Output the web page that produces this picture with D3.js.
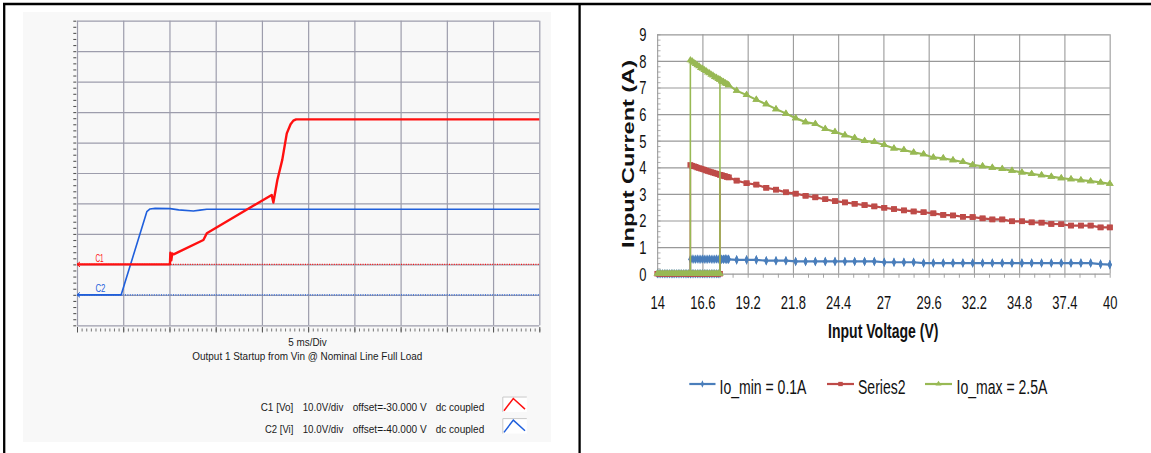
<!DOCTYPE html>
<html><head><meta charset="utf-8">
<script src="https://cdn.jsdelivr.net/npm/d3@7"></script>
<style>html,body{margin:0;padding:0;background:#fff;overflow:hidden}svg{display:block}</style>
</head><body><svg id="chart" width="1151" height="453"></svg>
<script>
// ================= DATA =================
// --- left: oscilloscope capture ---
const scopeDivTimes = [0, 5, 10, 15, 20, 25, 30, 35, 40, 45, 50];   // ms, 5 ms/div
const scopeDivs = [0, 1, 2, 3, 4, 5, 6, 7, 8, 9, 10];
const scopeVoltsPerDiv = [10, 10];          // C1, C2
const scopeOffsets = [-30, -40];            // V
const c1Time = [0, 10.05, 10.1, 10.2, 10.3, 10.45, 13.67, 14.04, 21.06, 21.24, 21.67, 22.2, 22.69, 23.1, 23.4, 23.7, 50];
const c1Volt = [0, 0, 3.8, 1.3, 3.6, 3.3, 8.0, 10.2, 22.8, 20.3, 27.7, 34.3, 43.0, 46.0, 47.2, 47.6, 47.6];
const c2Time = [0, 4.78, 7.55, 7.9, 8.45, 10.07, 11.0, 12.59, 13.3, 14.04, 50];
const c2Volt = [0, 0, 27.3, 28.2, 28.4, 28.3, 27.9, 27.5, 27.8, 28.1, 28.1];
const scopeChannelNames = ["C1", "C2"];
const scopeLegendNames = ["C1 [Vo]", "C2 [Vi]"];
const scopeLegendScale = ["10.0V/div", "10.0V/div"];
const scopeLegendOffset = ["offset=-30.000 V", "offset=-40.000 V"];
const scopeLegendCoupling = ["dc coupled", "dc coupled"];
const scopeTimebase = "5 ms/Div";
const scopeCaption = "Output 1 Startup from Vin @ Nominal Line Full Load";

// --- right: input current vs input voltage ---
const vinTicks = [14, 16.6, 19.2, 21.8, 24.4, 27, 29.6, 32.2, 34.8, 37.4, 40];
const vinTickLabels = ["14", "16.6", "19.2", "21.8", "24.4", "27", "29.6", "32.2", "34.8", "37.4", "40"];
const currentTicks = [0, 1, 2, 3, 4, 5, 6, 7, 8, 9];
const seriesNames = ["Io_min = 0.1A", "Series2", "Io_max = 2.5A"];
const turnOnV = 17.6, turnOffV = 15.9;
const vinZero = [14.0, 14.1, 14.2, 14.3, 14.4, 14.5, 14.6, 14.7, 14.8, 14.9, 15.0, 15.1, 15.2, 15.3, 15.4, 15.5, 15.6, 15.7, 15.8, 15.9, 16.0, 16.1, 16.2, 16.3, 16.4, 16.5, 16.6, 16.7, 16.8, 16.9, 17.0, 17.1, 17.2, 17.3, 17.4, 17.5, 17.6];
const vinFine = [15.9, 16.0, 16.1, 16.2, 16.3, 16.4, 16.5, 16.6, 16.7, 16.8, 16.9, 17.0, 17.1, 17.2, 17.3, 17.4, 17.5, 17.6, 17.7, 17.8, 17.9, 18.0, 18.1];
const ioMinFine   = [0.54, 0.55, 0.54, 0.54, 0.55, 0.54, 0.54, 0.55, 0.54, 0.54, 0.54, 0.55, 0.54, 0.54, 0.54, 0.55, 0.54, 0.54, 0.54, 0.54, 0.55, 0.54, 0.54];
const series2Fine = [4.09, 4.06, 4.04, 4.02, 3.99, 3.97, 3.95, 3.93, 3.91, 3.88, 3.86, 3.84, 3.82, 3.80, 3.78, 3.76, 3.74, 3.72, 3.70, 3.68, 3.66, 3.64, 3.62];
const ioMaxFine   = [8.03, 7.99, 7.93, 7.89, 7.84, 7.80, 7.74, 7.71, 7.66, 7.62, 7.57, 7.54, 7.48, 7.45, 7.40, 7.37, 7.32, 7.29, 7.24, 7.21, 7.16, 7.13, 7.09];
const vinCoarse = [18.56, 19.13, 19.69, 20.26, 20.82, 21.39, 21.95, 22.52, 23.08, 23.65, 24.21, 24.78, 25.34, 25.91, 26.47, 27.04, 27.6, 28.17, 28.73, 29.3, 29.86, 30.43, 30.99, 31.56, 32.12, 32.69, 33.25, 33.82, 34.38, 34.95, 35.51, 36.08, 36.64, 37.21, 37.77, 38.34, 38.9, 39.47, 40.0];
const ioMinCoarse = [0.52, 0.52, 0.52, 0.49, 0.49, 0.49, 0.46, 0.46, 0.46, 0.46, 0.46, 0.46, 0.46, 0.46, 0.46, 0.43, 0.43, 0.43, 0.43, 0.40, 0.40, 0.40, 0.40, 0.40, 0.40, 0.40, 0.40, 0.40, 0.40, 0.40, 0.40, 0.40, 0.40, 0.40, 0.40, 0.40, 0.40, 0.36, 0.34];
const series2Coarse = [3.50, 3.40, 3.35, 3.23, 3.16, 3.06, 3.01, 2.93, 2.87, 2.80, 2.73, 2.68, 2.63, 2.58, 2.53, 2.48, 2.43, 2.38, 2.34, 2.31, 2.27, 2.21, 2.19, 2.14, 2.13, 2.08, 2.04, 2.04, 1.97, 1.97, 1.93, 1.92, 1.87, 1.86, 1.81, 1.81, 1.81, 1.74, 1.74];
const ioMaxCoarse = [6.88, 6.72, 6.54, 6.37, 6.19, 6.02, 5.85, 5.70, 5.63, 5.44, 5.33, 5.21, 5.10, 4.99, 4.95, 4.84, 4.71, 4.65, 4.56, 4.49, 4.37, 4.34, 4.27, 4.20, 4.09, 4.04, 3.99, 3.94, 3.87, 3.81, 3.75, 3.70, 3.65, 3.59, 3.55, 3.52, 3.48, 3.43, 3.38];

// ================= DRAW =================
const W = 1151, H = 453;
const svg = d3.select('#chart');
svg.append('rect').attr('width', W).attr('height', H).attr('fill', '#fff');

// ---------- LEFT PANEL (scope) ----------
const L = svg.append('g').attr('font-family', "'Liberation Sans', Arial, sans-serif");
L.append('rect').attr('x', 23).attr('y', 12).attr('width', 528).attr('height', 430).attr('fill', '#f8f8f8');

const sx0 = 77, sx1 = 539.3, sy0 = 325.3, sy1 = 20.7;
const xS = d3.scaleLinear().domain([0, d3.max(scopeDivTimes)]).range([sx0, sx1]);
const yS = d3.scaleLinear().domain([0, d3.max(scopeDivs)]).range([sy0, sy1]);

function clean(g) { g.select('.domain').remove(); return g; }

// grid
clean(L.append('g').attr('transform', `translate(0,${sy0})`)
  .call(d3.axisBottom(xS).tickValues(scopeDivTimes).tickSize(-(sy0 - sy1)).tickFormat('')))
  .selectAll('line').attr('stroke', '#9d9dac').attr('stroke-width', 1.2);
clean(L.append('g').attr('transform', `translate(${sx0},0)`)
  .call(d3.axisLeft(yS).tickValues(scopeDivs).tickSize(-(sx1 - sx0)).tickFormat('')))
  .selectAll('line').attr('stroke', '#9d9dac').attr('stroke-width', 1.2);

// bottom ticks
clean(L.append('g').attr('transform', `translate(0,328.5)`)
  .call(d3.axisBottom(xS).tickValues(d3.range(0, 50.001, 0.5)).tickSize(3).tickFormat('')))
  .selectAll('line').attr('stroke', '#666').attr('stroke-width', 0.9);
clean(L.append('g').attr('transform', `translate(0,327)`)
  .call(d3.axisBottom(xS).tickValues(scopeDivTimes).tickSize(5.5).tickFormat('')))
  .selectAll('line').attr('stroke', '#555').attr('stroke-width', 1);
// left ticks
clean(L.append('g').attr('transform', `translate(76.3,0)`)
  .call(d3.axisLeft(yS).tickValues(d3.range(0, 10.001, 0.2)).tickSize(3).tickFormat('')))
  .selectAll('line').attr('stroke', '#555').attr('stroke-width', 1.1);

const chanColors = ['#ff1010', '#1f5fdc'];
const groundDiv = scopeOffsets.map((o, i) => (d3.max(scopeDivs) / 2) + o / scopeVoltsPerDiv[i]);

// ground reference dotted lines
groundDiv.forEach((g, i) => {
  L.append('line').attr('x1', xS(0)).attr('x2', xS(50)).attr('y1', yS(g)).attr('y2', yS(g))
    .attr('stroke', chanColors[i]).attr('stroke-width', 1.3).attr('stroke-dasharray', '1,1.4');
  L.append('path').attr('d', `M${xS(0) + 3},${yS(g) - 2.5} L${xS(0)},${yS(g)} L${xS(0) + 3},${yS(g) + 2.5}`)
    .attr('fill', 'none').attr('stroke', chanColors[i]).attr('stroke-width', 1);
});

const traces = [
  {t: c1Time, v: c1Volt, w: 2.4},
  {t: c2Time, v: c2Volt, w: 1.6}
];
[1, 0].forEach(i => {
  const tr = traces[i];
  const pts = tr.t.map((t, k) => [t, tr.v[k]]);
  const line = d3.line().x(d => xS(d[0])).y(d => yS(groundDiv[i] + d[1] / scopeVoltsPerDiv[i]));
  L.append('path').attr('d', line(pts)).attr('fill', 'none')
    .attr('stroke', chanColors[i]).attr('stroke-width', tr.w).attr('stroke-linejoin', 'round');
});

// channel labels
scopeChannelNames.forEach((n, i) => {
  L.append('text').attr('x', 95.4).attr('y', yS(groundDiv[i]) - 2.6).text(n)
    .attr('font-size', 10.5).attr('fill', chanColors[i])
    .attr('textLength', i === 0 ? 8.2 : 10).attr('lengthAdjust', 'spacingAndGlyphs');
});

function ltext(x, y, s, len, size) {
  return L.append('text').attr('x', x).attr('y', y).text(s).attr('font-size', size || 10.8)
    .attr('fill', '#1a1a1a').attr('textLength', len).attr('lengthAdjust', 'spacingAndGlyphs');
}
ltext(288.3, 345.8, scopeTimebase, 38.4);
ltext(192.3, 360.3, scopeCaption, 230);

const legRowY = [411, 432.6];
const nameX = [[260.7, 32.6], [265, 28.3]];
scopeLegendNames.forEach((n, i) => {
  ltext(nameX[i][0], legRowY[i], n, nameX[i][1], 11);
  ltext(302.7, legRowY[i], scopeLegendScale[i], 40.6, 11);
  ltext(352.7, legRowY[i], scopeLegendOffset[i], 74, 11);
  ltext(435.7, legRowY[i], scopeLegendCoupling[i], 48.6, 11);
  const top = legRowY[i] - 14.5;
  L.append('rect').attr('x', 502.3).attr('y', top).attr('width', 24.5).attr('height', 15.5).attr('fill', '#fff');
  L.append('path').attr('d', `M502.8,${top + 15.5} V${top + 0.5} H526.8`).attr('fill', 'none')
    .attr('stroke', '#c8c8c8').attr('stroke-width', 1);
  L.append('path').attr('d', `M504,${top + 14.3} L513.3,${top + 2} L525,${top + 12.6}`)
    .attr('fill', 'none').attr('stroke', chanColors[i]).attr('stroke-width', 1.5);
});

// ---------- RIGHT PANEL (Excel chart, horizontally squeezed) ----------
const SQ = 0.72;
const R = svg.append('g').attr('transform', `scale(${SQ},1)`)
  .attr('font-family', "'Liberation Sans', Arial, sans-serif");
const rx0 = 657.3, rx1 = 1109.8, ry0 = 273.7, ry1 = 34.3;
const xR = d3.scaleLinear().domain([d3.min(vinTicks), d3.max(vinTicks)]).range([rx0 / SQ, rx1 / SQ]);
const yR = d3.scaleLinear().domain([d3.min(currentTicks), d3.max(currentTicks)]).range([ry0, ry1]);

// gridlines
clean(R.append('g').attr('transform', `translate(0,${ry0})`)
  .call(d3.axisBottom(xR).tickValues(vinTicks).tickSize(-(ry0 - ry1)).tickFormat('')))
  .selectAll('line').attr('stroke', '#999').attr('stroke-width', 1.5);
clean(R.append('g').attr('transform', `translate(${rx0 / SQ},0)`)
  .call(d3.axisLeft(yR).tickValues(currentTicks).tickSize(-(rx1 - rx0) / SQ).tickFormat('')))
  .selectAll('line').attr('stroke', '#999').attr('stroke-width', 1.2);
// minor ticks
clean(R.append('g').attr('transform', `translate(${rx0 / SQ},0)`)
  .call(d3.axisRight(yR).tickValues(d3.range(0, 9.001, 0.2)).tickSize(4.5).tickFormat('')))
  .selectAll('line').attr('stroke', '#999').attr('stroke-width', 0.9);
clean(R.append('g').attr('transform', `translate(0,${ry0})`)
  .call(d3.axisBottom(xR).tickValues(d3.range(14, 40.001, 2.6 / 3)).tickSize(4).tickFormat('')))
  .selectAll('line').attr('stroke', '#999').attr('stroke-width', 1.2);

// tick labels
const xl = R.append('g').attr('transform', `translate(0,${ry0})`)
  .call(d3.axisBottom(xR).tickValues(vinTicks).tickSize(0).tickFormat((d, i) => vinTickLabels[i]));
xl.select('.domain').remove();
xl.selectAll('text').attr('y', 35).attr('dy', null).attr('font-size', 18).attr('fill', '#111').attr('font-family', null);
const yl = R.append('g').attr('transform', `translate(${rx0 / SQ},0)`)
  .call(d3.axisLeft(yR).tickValues(currentTicks).tickSize(0));
yl.select('.domain').remove();
yl.selectAll('text').attr('x', -(rx0 - 646.5) / SQ).attr('dy', '0.36em').attr('font-size', 18).attr('fill', '#111').attr('font-family', null);

// axis titles
R.append('text').attr('x', 883.3 / SQ).attr('y', 338.3).attr('text-anchor', 'middle')
  .attr('font-size', 19.5).attr('font-weight', 'bold').attr('fill', '#111').text('Input Voltage (V)');
R.append('text').attr('transform', `translate(${633.8 / SQ},154) rotate(-90)`).attr('text-anchor', 'middle')
  .attr('font-size', 23.5).attr('font-weight', 'bold').attr('fill', '#111').text('Input Current (A)');

// series
function sweep(fine, coarse) {
  const up = vinZero.map(v => [v, 0]);
  vinFine.forEach((v, i) => { if (v >= turnOnV) up.push([v, fine[i]]); });
  vinCoarse.forEach((v, i) => up.push([v, coarse[i]]));
  const down = [];
  for (let i = vinCoarse.length - 1; i >= 0; i--) down.push([vinCoarse[i], coarse[i]]);
  for (let i = vinFine.length - 1; i >= 0; i--) down.push([vinFine[i], fine[i]]);
  down.push([turnOffV, 0]);
  return up.concat(down);
}
const seriesData = [sweep(ioMinFine, ioMinCoarse), sweep(series2Fine, series2Coarse), sweep(ioMaxFine, ioMaxCoarse)];
const seriesColors = ['#4a7ebb', '#be4b48', '#98b954'];
const markers = [
  {type: d3.symbolDiamond, size: 24, sx: 1.1, sy: 1.05},
  {type: d3.symbolSquare, size: 42, sx: 1.25, sy: 0.85},
  {type: d3.symbolTriangle, size: 46, sx: 1.05, sy: 0.7}
];
const rLine = d3.line().x(d => xR(d[0])).y(d => yR(d[1]));
seriesData.forEach((data, i) => {
  const g = R.append('g');
  g.append('path').attr('d', rLine(data)).attr('fill', 'none').attr('stroke', seriesColors[i])
    .attr('stroke-width', 2.2).attr('stroke-linejoin', 'round');
  const m = markers[i];
  g.selectAll('path.m').data(data).join('path').attr('class', 'm')
    .attr('d', d3.symbol().type(m.type).size(m.size)())
    .attr('transform', d => `translate(${xR(d[0])},${yR(d[1])}) scale(${m.sx},${m.sy})`)
    .attr('fill', seriesColors[i]);
});

// legend
const legLine = [[689.3, 715.5, 719.5], [827, 854, 858], [925, 952, 956.5]];
seriesNames.forEach((n, i) => {
  const [a, b, tx] = legLine[i];
  R.append('line').attr('x1', a / SQ).attr('x2', b / SQ).attr('y1', 384).attr('y2', 384)
    .attr('stroke', seriesColors[i]).attr('stroke-width', 2.2);
  const m = markers[i];
  R.append('path').attr('d', d3.symbol().type(m.type).size(m.size * 0.6)())
    .attr('transform', `translate(${(a + b) / 2 / SQ},384) scale(${m.sx},${m.sy})`).attr('fill', seriesColors[i]);
  R.append('text').attr('x', tx / SQ).attr('y', 394).attr('font-size', 19.5).attr('fill', '#111').text(n);
});

// ---------- table frame ----------
const frame = svg.append('g').attr('stroke', '#000').attr('stroke-width', 2.3);
frame.append('line').attr('x1', 3).attr('x2', W).attr('y1', 4).attr('y2', 4);
frame.append('line').attr('x1', 4.2).attr('x2', 4.2).attr('y1', 3).attr('y2', H);
frame.append('line').attr('x1', 579.6).attr('x2', 579.6).attr('y1', 3).attr('y2', H);
</script>
</body></html>
